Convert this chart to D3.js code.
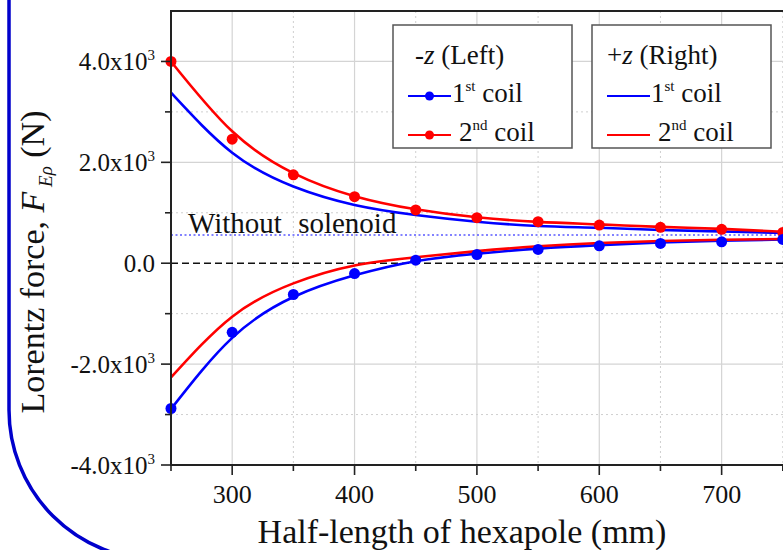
<!DOCTYPE html>
<html>
<head>
<meta charset="utf-8">
<script src="https://cdn.jsdelivr.net/npm/d3@7"></script>
<style>
    body { margin: 0; background: #fff; }
    svg { display: block; font-family: "Liberation Serif", "Times New Roman", serif; }
</style>
</head>
<body>
<div id="chart"></div>
<script>
// Half-length of hexapole (mm)
const halfLengths = [250, 300, 350, 400, 450, 500, 550, 600, 650, 700, 750];

// -z (Left): measured points
const leftCoil1Points = [-2880, -1370, -620, -205, 60, 173, 273, 345, 392, 424, 472];
const leftCoil2Points = [4000, 2460, 1753, 1320, 1056, 902, 823, 757, 711, 671, 610];

// -z (Left): fitted curves
const leftCoil1Curve = [-2890, -1480, -670, -240, 40, 190, 290, 358, 410, 445, 472];
const leftCoil2Curve = [4000, 2615, 1787, 1330, 1070, 910, 820, 770, 720, 680, 625];

// +z (Right): fitted curves
const rightCoil1Curve = [3380, 2190, 1520, 1155, 956, 823, 737, 703, 660, 630, 600];
const rightCoil2Curve = [-2265, -1060, -400, -45, 118, 240, 335, 400, 440, 465, 480];

// Without solenoid level
const withoutSolenoid = 558;

// Tick values and labels
const xMajorTicks = [300, 400, 500, 600, 700, 800];
const xMinorTicks = [250, 350, 450, 550, 650, 750];
const xTickLabels = [300, 400, 500, 600, 700];
const yMajorTicks = [-4000, -2000, 0, 2000, 4000];
const yMinorTicks = [-3000, -1000, 1000, 3000];
const yTickMantissa = ['-4.0x10', '-2.0x10', '0.0', '2.0x10', '4.0x10'];
const yTickExponent = ['3', '3', '', '3', '3'];

function drawChart(containerId) {
    const width = 783, height = 550;
    const plotLeft = 171, plotRight = 844, plotTop = 11, plotBottom = 465;

    const svg = d3.select(containerId).append('svg')
        .attr('width', width)
        .attr('height', height);

    const x = d3.scaleLinear().domain([250, 800]).range([plotLeft, plotRight]);
    const y = d3.scaleLinear().domain([-4000, 5000]).range([plotBottom, plotTop]);

    // Сетка
    const grid = svg.append('g');
    grid.selectAll('.vmaj').data(xMajorTicks).enter().append('line')
        .attr('x1', d => x(d)).attr('x2', d => x(d))
        .attr('y1', plotTop).attr('y2', plotBottom)
        .attr('stroke', '#d4d4d4').attr('stroke-width', 1.2);
    grid.selectAll('.vmin').data(xMinorTicks.slice(1)).enter().append('line')
        .attr('x1', d => x(d)).attr('x2', d => x(d))
        .attr('y1', plotTop).attr('y2', plotBottom)
        .attr('stroke', '#cfcfcf').attr('stroke-width', 1)
        .attr('stroke-dasharray', '2,3');
    grid.selectAll('.hmaj').data(yMajorTicks.filter(d => d !== 0 && d !== -4000)).enter().append('line')
        .attr('x1', plotLeft).attr('x2', plotRight)
        .attr('y1', d => y(d)).attr('y2', d => y(d))
        .attr('stroke', '#d4d4d4').attr('stroke-width', 1.2);
    grid.selectAll('.hmin').data(yMinorTicks).enter().append('line')
        .attr('x1', plotLeft).attr('x2', plotRight)
        .attr('y1', d => y(d)).attr('y2', d => y(d))
        .attr('stroke', '#cfcfcf').attr('stroke-width', 1)
        .attr('stroke-dasharray', '2,3');

    // Нулевая линия и уровень без соленоида
    svg.append('line')
        .attr('x1', plotLeft).attr('x2', plotRight)
        .attr('y1', y(0)).attr('y2', y(0))
        .attr('stroke', '#111').attr('stroke-width', 1.6)
        .attr('stroke-dasharray', '7,4');
    svg.append('line')
        .attr('x1', plotLeft).attr('x2', plotRight)
        .attr('y1', y(withoutSolenoid)).attr('y2', y(withoutSolenoid))
        .attr('stroke', '#5a5aff').attr('stroke-width', 1.5)
        .attr('stroke-dasharray', '2,2.5');
    svg.append('text')
        .attr('x', 188).attr('y', y(withoutSolenoid) - 2)
        .attr('font-size', '29px')
        .attr('word-spacing', '9px')
        .attr('fill', '#111')
        .text('Without solenoid');

    // Кривые
    const line = d3.line()
        .x((d, i) => x(halfLengths[i]))
        .y(d => y(d))
        .curve(d3.curveNatural);

    const curves = [
        { values: rightCoil1Curve, color: '#0000ff' },
        { values: leftCoil2Curve, color: '#ff0000' },
        { values: leftCoil1Curve, color: '#0000ff' },
        { values: rightCoil2Curve, color: '#ff0000' }
    ];
    svg.append('g').selectAll('path').data(curves).enter().append('path')
        .attr('d', d => line(d.values))
        .attr('fill', 'none')
        .attr('stroke', d => d.color)
        .attr('stroke-width', 2.6);

    // Точки
    const pointSets = [
        { values: leftCoil2Points, color: '#ff0000' },
        { values: leftCoil1Points, color: '#0000ff' }
    ];
    pointSets.forEach(set => {
        svg.append('g').selectAll('circle').data(set.values).enter().append('circle')
            .attr('cx', (d, i) => x(halfLengths[i]))
            .attr('cy', d => y(d))
            .attr('r', 5.5)
            .attr('fill', set.color);
    });

    // Оси
    const axisColor = '#222';
    svg.append('line')
        .attr('x1', plotLeft).attr('x2', plotLeft)
        .attr('y1', plotTop).attr('y2', plotBottom + 1)
        .attr('stroke', axisColor).attr('stroke-width', 2);
    svg.append('line')
        .attr('x1', plotLeft - 1).attr('x2', width)
        .attr('y1', plotBottom).attr('y2', plotBottom)
        .attr('stroke', axisColor).attr('stroke-width', 2);
    svg.append('line')
        .attr('x1', plotLeft - 1).attr('x2', width)
        .attr('y1', plotTop).attr('y2', plotTop)
        .attr('stroke', axisColor).attr('stroke-width', 2);

    // Деления оси X
    svg.selectAll('.xt').data(xMajorTicks).enter().append('line')
        .attr('x1', d => x(d)).attr('x2', d => x(d))
        .attr('y1', plotBottom).attr('y2', plotBottom + 10)
        .attr('stroke', axisColor).attr('stroke-width', 1.6);
    svg.selectAll('.xm').data(xMinorTicks).enter().append('line')
        .attr('x1', d => x(d)).attr('x2', d => x(d))
        .attr('y1', plotBottom).attr('y2', plotBottom + 6)
        .attr('stroke', axisColor).attr('stroke-width', 1.6);
    svg.selectAll('.xl').data(xTickLabels).enter().append('text')
        .attr('x', d => x(d)).attr('y', 503)
        .attr('text-anchor', 'middle')
        .attr('font-size', '26px')
        .attr('fill', '#111')
        .text(d => d);

    // Деления оси Y
    svg.selectAll('.yt').data(yMajorTicks).enter().append('line')
        .attr('x1', plotLeft - 10).attr('x2', plotLeft)
        .attr('y1', d => y(d)).attr('y2', d => y(d))
        .attr('stroke', axisColor).attr('stroke-width', 1.6);
    svg.selectAll('.ym').data(yMinorTicks).enter().append('line')
        .attr('x1', plotLeft - 6).attr('x2', plotLeft)
        .attr('y1', d => y(d)).attr('y2', d => y(d))
        .attr('stroke', axisColor).attr('stroke-width', 1.6);
    const yLabels = svg.selectAll('.yl').data(yMajorTicks).enter().append('text')
        .attr('x', 155).attr('y', d => y(d) + 9)
        .attr('text-anchor', 'end')
        .attr('font-size', '25px')
        .attr('fill', '#111');
    yLabels.append('tspan').text((d, i) => yTickMantissa[i]);
    yLabels.append('tspan')
        .attr('font-size', '15px')
        .attr('dy', -10)
        .text((d, i) => yTickExponent[i]);

    // Подписи осей
    svg.append('text')
        .attr('x', 462).attr('y', 543)
        .attr('text-anchor', 'middle')
        .attr('font-size', '34px')
        .attr('fill', '#111')
        .text('Half-length of hexapole (mm)');

    const yTitle = svg.append('text')
        .attr('transform', 'translate(44,262) rotate(-90)')
        .attr('text-anchor', 'middle')
        .attr('font-size', '34px')
        .attr('fill', '#111');
    yTitle.append('tspan').text('Lorentz force, ');
    yTitle.append('tspan').attr('font-style', 'italic').text('F');
    yTitle.append('tspan').attr('font-style', 'italic').attr('font-size', '19px').attr('dy', 8).text(' Eρ');
    yTitle.append('tspan').attr('dy', -8).text(' (N)');

    // Легенды
    drawLegend(svg, 393, 25, [{ t: '-', i: false }, { t: 'z', i: true }, { t: ' (Left)', i: false }], true);
    drawLegend(svg, 592, 25, [{ t: '+', i: false }, { t: 'z', i: true }, { t: ' (Right)', i: false }], false);

    // Синяя рамка
    svg.append('path')
        .attr('d', 'M9,-5 L9,410 A150,150 0 0 0 159,560')
        .attr('fill', 'none')
        .attr('stroke', '#0000cc')
        .attr('stroke-width', 3.5);
}

function drawLegend(svg, left, top, header, withDots) {
    const g = svg.append('g').attr('transform', `translate(${left},${top})`);
    g.append('rect')
        .attr('width', 179).attr('height', 123)
        .attr('fill', '#fff')
        .attr('stroke', '#555').attr('stroke-width', 1.5);

    const head = g.append('text')
        .attr('x', withDots ? 22 : 15).attr('y', 39)
        .attr('font-size', '27px')
        .attr('fill', '#111');
    header.forEach(h => head.append('tspan')
        .attr('font-style', h.i ? 'italic' : 'normal')
        .text(h.t));

    const rows = [
        { color: '#0000ff', num: '1', sup: 'st', y: 71, pad: 0 },
        { color: '#ff0000', num: '2', sup: 'nd', y: 110, pad: 7 }
    ];
    const lx0 = 15, lx1 = 58;
    rows.forEach(r => {
        g.append('line')
            .attr('x1', lx0).attr('x2', lx1)
            .attr('y1', r.y).attr('y2', r.y)
            .attr('stroke', r.color).attr('stroke-width', 2.2);
        if (withDots) {
            g.append('circle')
                .attr('cx', (lx0 + lx1) / 2).attr('cy', r.y)
                .attr('r', 4.5).attr('fill', r.color);
        }
        const t = g.append('text')
            .attr('x', lx1 + 1 + r.pad).attr('y', r.y + 6)
            .attr('font-size', '27px')
            .attr('fill', '#111');
        t.append('tspan').text(r.num);
        t.append('tspan').attr('font-size', '15px').attr('dy', -11).text(r.sup);
        t.append('tspan').attr('dy', 11).text(' coil');
    });
}

drawChart('#chart');
</script>
</body>
</html>
